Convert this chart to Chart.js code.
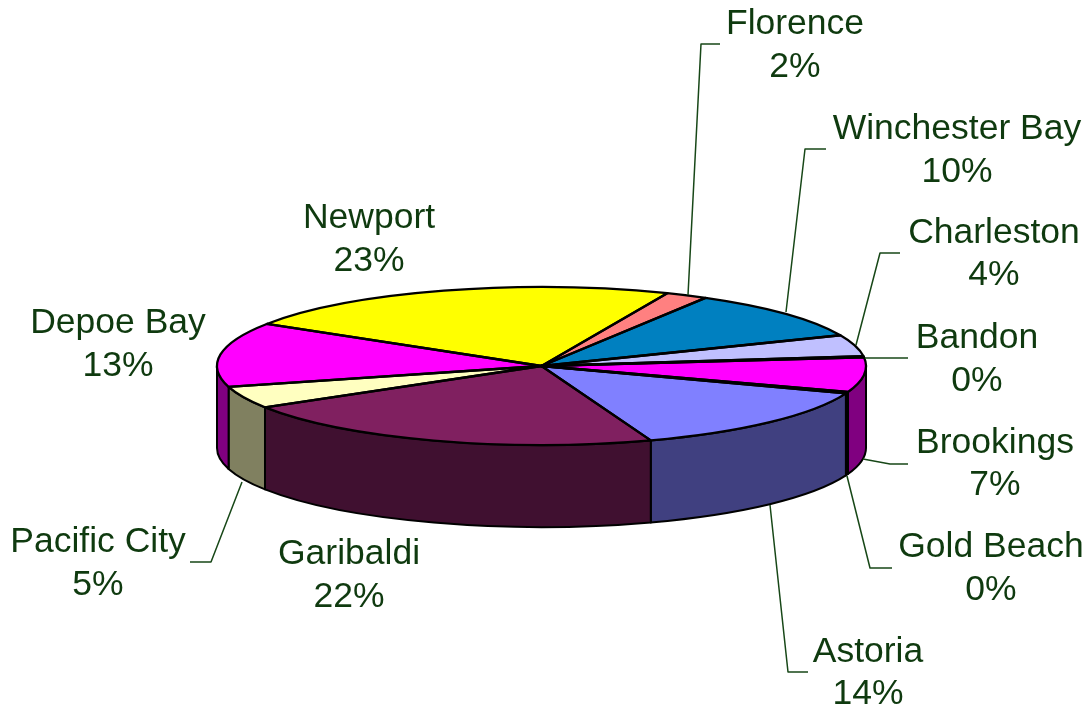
<!DOCTYPE html>
<html><head><meta charset="utf-8">
<style>html,body{margin:0;padding:0;background:#fff}#w{width:1090px;height:711px}</style>
<script src="https://cdn.jsdelivr.net/npm/chart.js@4"></script>
</head><body><div id="w"><canvas id="c" width="1090" height="711"></canvas></div>
<script>
const categories = ["Florence","Winchester Bay","Charleston","Bandon","Brookings","Gold Beach","Astoria","Garibaldi","Pacific City","Depoe Bay","Newport"];
const values = [2.1,10.2,4.4,0.2,7.1,0.3,13.9,21.7,4.5,13.2,22.4];
const percentLabels = ["2%","10%","4%","0%","7%","0%","14%","22%","5%","13%","23%"];
const topColors = ["#FF8080","#0080C0","#C0C0FF","#000080","#FF00FF","#000000","#8080FF","#802060","#FFFFC0","#FF00FF","#FFFF00"];
const sideColors = ["#804040","#004060","#606080","#000040","#800080","#000000","#404080","#401030","#808060","#800080","#808000"];
const startRotation = 22.8;

// annotation layout: [label centre x, first line y, second line y, leader polyline]
const labelLayout = [
  [795,24,67,[[688,295],[701,44],[720,44]]],
  [957,129,172,[[786,312],[805,149],[826,149]]],
  [994,233,275,[[856,345],[880,253],[900,253]]],
  [977,338,381,[[865,358],[908,358]]],
  [995,443,485,[[863,459],[890,464],[908,464]]],
  [991,547,590,[[847,476],[870,568],[892,568]]],
  [868,652,694,[[770,505],[788,672],[808,672]]],
  [349,554,597,[]],
  [98,542,585,[[242,482],[211,562],[190,562]]],
  [118,323,366,[]],
  [369,218,261,[]]
];
const view = {cx:541.5, cy:366, rx:324.5, ry:79, depth:82};
const textColor = "#0F3A0F", leaderColor = "#174717";

const pie3d = {
  id:'pie3d',
  beforeDatasetsDraw(chart){
    const ctx = chart.ctx, arcs = chart.getDatasetMeta(0).data;
    const {cx,cy,rx,ry,depth} = view;
    ctx.save();
    ctx.lineJoin='round';
    // side walls: only the front half of the ellipse is visible
    arcs.forEach((el,i)=>{
      [[el.startAngle,el.endAngle],[el.startAngle-2*Math.PI,el.endAngle-2*Math.PI]].forEach(([s,e])=>{
        const a=Math.max(s,0), b=Math.min(e,Math.PI);
        if(b<=a) return;
        ctx.beginPath();
        ctx.ellipse(cx,cy,rx,ry,0,a,b);
        ctx.ellipse(cx,cy+depth,rx,ry,0,b,a,true);
        ctx.closePath();
        ctx.fillStyle=sideColors[i];
        ctx.fill();
        ctx.strokeStyle='#000';
        ctx.lineWidth=2;
        ctx.stroke();
      });
    });
    ctx.restore();
    // top face: the library's arcs, squashed into an ellipse
    const el0 = arcs[0];
    const sx = rx/el0.outerRadius, sy = ry/el0.outerRadius;
    ctx.save();
    ctx.setTransform(sx,0,0,sy,cx-sx*el0.x,cy-sy*el0.y);
  },
  afterDatasetsDraw(chart){
    const ctx = chart.ctx, arcs = chart.getDatasetMeta(0).data;
    const {cx,cy,rx,ry} = view;
    ctx.restore();
    ctx.save();
    ctx.lineJoin='round';
    ctx.strokeStyle='#000';
    ctx.lineWidth=2.3;
    arcs.forEach(el=>{
      ctx.beginPath();
      ctx.moveTo(cx,cy);
      ctx.ellipse(cx,cy,rx,ry,0,el.startAngle,el.endAngle);
      ctx.closePath();
      ctx.stroke();
    });
    // leaders and labels
    ctx.strokeStyle=leaderColor;
    ctx.lineWidth=1.5;
    labelLayout.forEach(l=>{
      if(!l[3].length) return;
      ctx.beginPath();
      l[3].forEach((p,j)=> j?ctx.lineTo(p[0],p[1]):ctx.moveTo(p[0],p[1]));
      ctx.stroke();
    });
    ctx.fillStyle=textColor;
    ctx.font='35.5px "Liberation Sans"';
    ctx.textAlign='center';
    ctx.textBaseline='middle';
    labelLayout.forEach((l,i)=>{
      ctx.fillText(categories[i],l[0],l[1]);
      ctx.fillText(percentLabels[i],l[0],l[2]);
    });
    ctx.restore();
  }
};

new Chart(document.getElementById('c'),{
  type:'pie',
  data:{labels:categories,datasets:[{data:values,backgroundColor:topColors,borderWidth:0}]},
  options:{
    responsive:false,animation:false,
    rotation:startRotation,
    layout:{padding:{left:217,right:224,top:42,bottom:20}},
    plugins:{legend:{display:false},tooltip:{enabled:false}}
  },
  plugins:[pie3d]
});
</script></body></html>
